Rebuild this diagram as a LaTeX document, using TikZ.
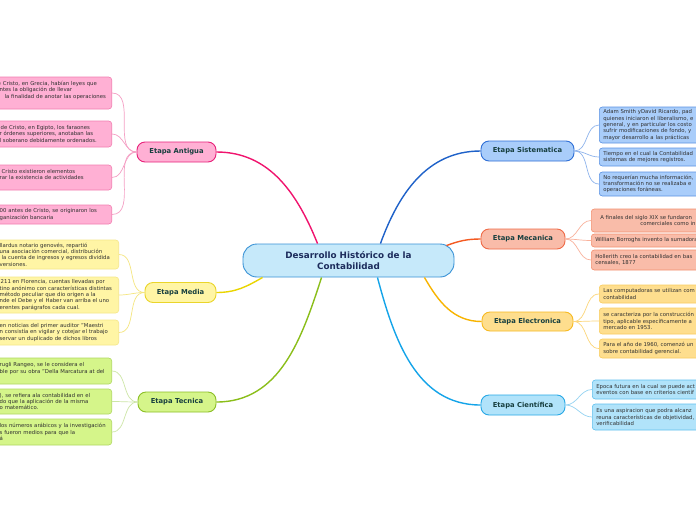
\documentclass[tikz,border=0pt]{standalone}
\usepackage{fontspec}
\setmainfont{DejaVu Sans}
\newcommand\lyn[1]{\mbox{#1}}
\definecolor{pinkMain}{HTML}{F0146E}
\definecolor{pinkFill}{HTML}{FFB0D4}
\definecolor{pinkStage}{HTML}{E8217A}
\definecolor{pinkLeafB}{HTML}{F27DB0}
\definecolor{pinkLine}{HTML}{F5A0C5}
\definecolor{yelMain}{HTML}{EAD500}
\definecolor{yelFill}{HTML}{FFF5A5}
\definecolor{yelStage}{HTML}{EAD52A}
\definecolor{yelLeafB}{HTML}{F5E78A}
\definecolor{yelLine}{HTML}{F5E680}
\definecolor{grnMain}{HTML}{8BBE1A}
\definecolor{grnFill}{HTML}{D5F58A}
\definecolor{grnStage}{HTML}{8CBF26}
\definecolor{grnLeafB}{HTML}{B0D860}
\definecolor{grnLine}{HTML}{CDE6A6}
\definecolor{bluMain}{HTML}{1F62C9}
\definecolor{bluFill}{HTML}{A9CDFA}
\definecolor{bluStage}{HTML}{2F6FD6}
\definecolor{bluLeafB}{HTML}{5B92E3}
\definecolor{bluLine}{HTML}{8FB4EC}
\definecolor{orgMain}{HTML}{F45A22}
\definecolor{orgFill}{HTML}{F9BCA9}
\definecolor{orgStage}{HTML}{EF6A47}
\definecolor{orgLeafB}{HTML}{F3906F}
\definecolor{orgLine}{HTML}{F9B29C}
\definecolor{ambMain}{HTML}{F8B400}
\definecolor{ambFill}{HTML}{FEDE8E}
\definecolor{ambStage}{HTML}{F7BA22}
\definecolor{ambLeafB}{HTML}{F9CC5E}
\definecolor{ambLine}{HTML}{FCD67A}
\definecolor{skyMain}{HTML}{14A4E9}
\definecolor{skyFill}{HTML}{B1E3FA}
\definecolor{skyStage}{HTML}{27A8E6}
\definecolor{skyLeafB}{HTML}{5FC0EE}
\definecolor{skyLine}{HTML}{95D3F2}
\definecolor{cenFill}{HTML}{C6E9FA}
\definecolor{cenBorder}{HTML}{3A92D6}
\definecolor{cenText}{HTML}{1C2C5C}
\definecolor{stageText}{HTML}{173F3F}
\definecolor{leafText}{HTML}{303030}
\begin{document}
\begin{tikzpicture}[x=1pt,y=1pt,
  central/.style={draw=cenBorder, fill=cenFill, line width=0.9pt, rounded corners=14pt,
    minimum width=211pt, minimum height=33pt, align=center, text=cenText,
    font=\fontsize{8.8}{11.5}\selectfont\bfseries},
  stage/.style={draw, line width=0.9pt, rounded corners=8pt, minimum height=20pt,
    inner sep=0pt, text=stageText, font=\fontsize{6.8}{8}\selectfont\bfseries},
  leaf/.style={draw, line width=0.6pt, rounded corners=3pt, inner xsep=4pt, inner ysep=0pt,
    align=left, text=leafText, font=\fontsize{5.35}{6.4}\selectfont},
  mainline/.style={line width=1.4pt},
  leafline/.style={line width=0.7pt}]
\useasboundingbox (0,0) rectangle (696,-520);
\fill[white] (0,0) rectangle (696,-520);

% central
\node[central] (c) at (348.5,-260.5) {Desarrollo Histórico de la\\Contabilidad};

% stages
\node[stage, draw=pinkStage, fill=pinkFill, minimum width=79pt] (ant) at (176.5,-152) {Etapa Antigua};
\node[stage, draw=yelStage, fill=yelFill, minimum width=71pt] (med) at (180.5,-292.5) {Etapa Media};
\node[stage, draw=grnStage, fill=grnFill, minimum width=78pt] (tec) at (177,-402) {Etapa Tecnica};
\node[stage, draw=bluStage, fill=bluFill, minimum width=93pt] (sis) at (527.5,-151) {Etapa Sistematica};
\node[stage, draw=orgStage, fill=orgFill, minimum width=84pt] (mec) at (523,-239) {Etapa Mecanica};
\node[stage, draw=ambStage, fill=ambFill, minimum width=91pt, minimum height=19pt] (ele) at (527.5,-321.5) {Etapa Electronica};
\node[stage, draw=skyStage, fill=skyFill, minimum width=84pt] (sci) at (523,-405) {Etapa Científica};

% main connectors
\draw[mainline, pinkMain] ([xshift=75pt]c.north west) to[out=112,in=0] (ant.east);
\draw[mainline, yelMain] ([xshift=20pt]c.south west) to[out=-150,in=0] (med.east);
\draw[mainline, grnMain] ([xshift=79pt]c.south west) to[out=-108,in=0] (tec.east);
\draw[mainline, bluMain] ([xshift=-74pt]c.north east) to[out=70,in=180] (sis.west);
\draw[mainline, orgMain] ([xshift=-8pt,yshift=-2pt]c.north east) to[out=20,in=180] (mec.west);
\draw[mainline, ambMain] ([xshift=-30pt]c.south east) to[out=-60,in=180] (ele.west);
\draw[mainline, skyMain] ([xshift=-77pt]c.south east) to[out=-75,in=180] (sci.west);

% Antigua leaves
\begin{scope}[every node/.append style={leaf, fill=pinkFill, draw=pinkLeafB, text width=108pt, anchor=east}]
\node[minimum height=32pt] (a1) at (112,-93) {\lyn{\hspace*{-2pt}e Cristo, en Grecia, habían leyes que}\\\lyn{ntes la obligación de llevar}\\\lyn{\hspace*{5pt}la finalidad de anotar las operaciones}\\\lyn{}};
\node[minimum height=26pt] (a2) at (112,-134) {\lyn{\hspace*{1pt}de Cristo, en Egipto, los faraones}\\\lyn{r órdenes superiores, anotaban las}\\\lyn{l soberano debidamente ordenados.}};
\node[minimum height=25pt] (a3) at (112,-177.5) {\lyn{\hspace*{2pt}Cristo existieron elementos}\\\lyn{rar la existencia de actividades}\\\lyn{}};
\node[minimum height=19pt] (a4) at (112,-214.5) {\lyn{00 antes de Cristo, se originaron los}\\\lyn{ganización bancaria}};
\end{scope}

% Media leaves
\begin{scope}[every node/.append style={leaf, fill=yelFill, draw=yelLeafB, text width=115pt, anchor=east}]
\node[minimum height=29pt] (m1) at (119,-254.5) {\lyn{llardus notario genovés, repartió}\\\lyn{una asociación comercial, distribución}\\\lyn{\hspace*{2pt}la cuenta de ingresos y egresos dividida}\\\lyn{versiones.}};
\node[minimum height=36pt] (m2) at (119,-295) {\lyn{\hspace*{1pt}211 en Florencia, cuentas llevadas por}\\\lyn{tino anónimo con características distintas}\\\lyn{método peculiar que dio origen a la}\\\lyn{nde el Debe y el Haber van arriba el uno}\\\lyn{erentes parágrafos cada cual.}};
\node[minimum height=25pt] (m3) at (119,-332.5) {\lyn{en noticias del primer auditor "Maestri}\\\lyn{n consistía en vigilar y cotejar el trabajo}\\\lyn{servar un duplicado de dichos libros}};
\end{scope}

% Tecnica leaves
\begin{scope}[every node/.append style={leaf, fill=grnFill, draw=grnLeafB, text width=108pt, anchor=east}]
\node[minimum height=26pt] (t1) at (112,-371) {\lyn{rugli Rangeo, se le considera el}\\\lyn{ble por su obra "Della Marcatura at del}\\\lyn{}};
\node[minimum height=25pt] (t2) at (112,-401.5) {\lyn{), se refiera ala contabilidad en el}\\\lyn{do que la aplicación de la misma}\\\lyn{o matemático.}};
\node[minimum height=26pt] (t3) at (112,-432) {\lyn{los números arábicos y la investigación}\\\lyn{s fueron medios para que la}\\\lyn{á}};
\end{scope}

% Sistematica leaves
\begin{scope}[every node/.append style={leaf, fill=bluFill, draw=bluLeafB, text width=150pt, anchor=west}]
\node[minimum height=36pt] (s1) at (599,-125) {\lyn{Adam Smith yDavid Ricardo, pad}\\\lyn{quienes iniciaron el liberalismo, e}\\\lyn{general, y en particular los costo}\\\lyn{sufrir modificaciones de fondo, y}\\\lyn{mayor desarrollo a las prácticas}};
\node[minimum height=18pt] (s2) at (599,-157) {\lyn{Tiempo en el cual la Contabilidad}\\\lyn{sistemas de mejores registros.}};
\node[minimum height=24pt] (s3) at (599,-184) {\lyn{No requerían mucha información,}\\\lyn{transformación no se realizaba e}\\\lyn{operaciones foráneas.}};
\end{scope}

% Mecanica leaves
\begin{scope}[every node/.append style={leaf, fill=orgFill, draw=orgLeafB, text width=150pt, anchor=west}]
\node[minimum height=23pt] (e1) at (591,-220.5) {\lyn{\hspace*{5pt}A finales del siglo XIX se fundaron}\\\lyn{\hspace*{45pt}comerciales como in}};
\node[minimum height=13pt] (e2) at (591,-240.5) {\lyn{William Borroghs invento la sumadora}};
\node[minimum height=20pt] (e3) at (591,-260) {\lyn{Hollerith creo la contabilidad en bas}\\\lyn{censales, 1877}};
\end{scope}

% Electronica leaves
\begin{scope}[every node/.append style={leaf, fill=ambFill, draw=ambLeafB, text width=150pt, anchor=west}]
\node[minimum height=18pt] (l1) at (599,-294) {\lyn{Las computadoras se utilizan com}\\\lyn{contabilidad}};
\node[minimum height=26pt] (l2) at (599,-321) {\lyn{se caracteriza por la construcción}\\\lyn{tipo, aplicable específicamente a}\\\lyn{mercado en 1953.}};
\node[minimum height=19pt] (l3) at (599,-348.5) {\lyn{Para el año de 1960, comenzó un}\\\lyn{sobre contabilidad gerencial.}};
\end{scope}

% Cientifica leaves
\begin{scope}[every node/.append style={leaf, fill=skyFill, draw=skyLeafB, text width=150pt, anchor=west}]
\node[minimum height=19pt] (k1) at (592,-389.5) {\lyn{Epoca futura en la cual se puede act}\\\lyn{eventos con base en criterios científ}};
\node[minimum height=26pt] (k2) at (592,-417) {\lyn{Es una aspiracion que podra alcanz}\\\lyn{reuna características de objetividad,}\\\lyn{verificabilidad}};
\end{scope}

% leaf connectors
\foreach \n in {a1,a2,a3,a4} \draw[leafline, pinkLine] (ant.west) to[out=180,in=0] (\n.east);
\foreach \n in {m1,m2,m3} \draw[leafline, yelLine] (med.west) to[out=180,in=0] (\n.east);
\foreach \n in {t1,t2,t3} \draw[leafline, grnLine] (tec.west) to[out=180,in=0] (\n.east);
\foreach \n in {s1,s2,s3} \draw[leafline, bluLine] (sis.east) to[out=0,in=180] (\n.west);
\foreach \n in {e1,e2,e3} \draw[leafline, orgLine] (mec.east) to[out=0,in=180] (\n.west);
\foreach \n in {l1,l2,l3} \draw[leafline, ambLine] (ele.east) to[out=0,in=180] (\n.west);
\foreach \n in {k1,k2} \draw[leafline, skyLine] (sci.east) to[out=0,in=180] (\n.west);
\end{tikzpicture}
\end{document}
